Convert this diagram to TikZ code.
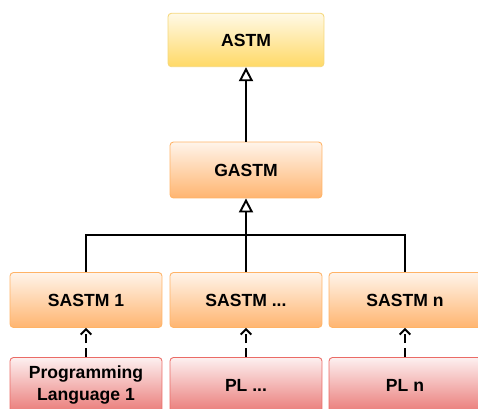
\documentclass[tikz,border=0pt]{standalone}
\usepackage{fontspec}
\setmainfont{Liberation Sans}
\usetikzlibrary{arrows.meta, positioning, calc}

\definecolor{ylwtop}{HTML}{FFF9E6}
\definecolor{ylwbot}{HTML}{FFD966}
\definecolor{ylwline}{HTML}{F5D77A}
\definecolor{orgtop}{HTML}{FFF4EA}
\definecolor{orgbot}{HTML}{FFB570}
\definecolor{orgline}{HTML}{FFB366}
\definecolor{redtop}{HTML}{FDF0F0}
\definecolor{redbot}{HTML}{EA7B78}
\definecolor{redline}{HTML}{EA6B66}

\tikzset{
  box/.style={rounded corners=2pt, line width=0.5pt, minimum width=3.04cm,
    minimum height=1.1cm, align=center, font=\bfseries, inner sep=0pt},
  ybox/.style={box, draw=ylwline, top color=ylwtop, bottom color=ylwbot},
  obox/.style={box, draw=orgline, top color=orgtop, bottom color=orgbot},
  rbox/.style={box, draw=redline, top color=redtop, bottom color=redbot},
  inherit/.style={line width=1.1pt, -{Triangle[open, length=8pt, width=8pt]}},
  realize/.style={line width=1.1pt, dash pattern=on 5pt off 3pt,
    -{Straight Barb[length=3pt, width=6pt]}}
}

\begin{document}
\begin{tikzpicture}[x=0.02cm, y=-0.02cm]
      \useasboundingbox (0,0) rectangle (478,409);

      \node[ybox, minimum width=3.12cm, minimum height=1.07cm] (astm) at (246,40) {ASTM};
      \node[obox, minimum height=1.12cm] (gastm) at (246,170) {GASTM};

      \node[obox] (sastm1) at (86,300) {SASTM 1};
      \node[obox] (sastm2) at (246,300) {SASTM ...};
      \node[obox] (sastmn) at (405,300) {SASTM n};

      \node[rbox] (pl1) at (86,385) {Programming\\Language 1};
      \node[rbox] (pl2) at (246,385) {PL ...};
      \node[rbox] (pln) at (405,385) {PL n};

      \coordinate (bar) at (246,235);

      \draw[inherit] (gastm.north) -- (astm.south);
      \draw[line width=1.1pt] (sastm1.north) |- (bar) -| (sastmn.north);
      \draw[line width=1.1pt] (sastm2.north) -- (bar);
      \draw[inherit] (bar) -- (gastm.south);

      \draw[realize] (pl1.north) -- (sastm1.south);
      \draw[realize] (pl2.north) -- (sastm2.south);
      \draw[realize] (pln.north) -- (sastmn.south);

\end{tikzpicture}
\end{document}
